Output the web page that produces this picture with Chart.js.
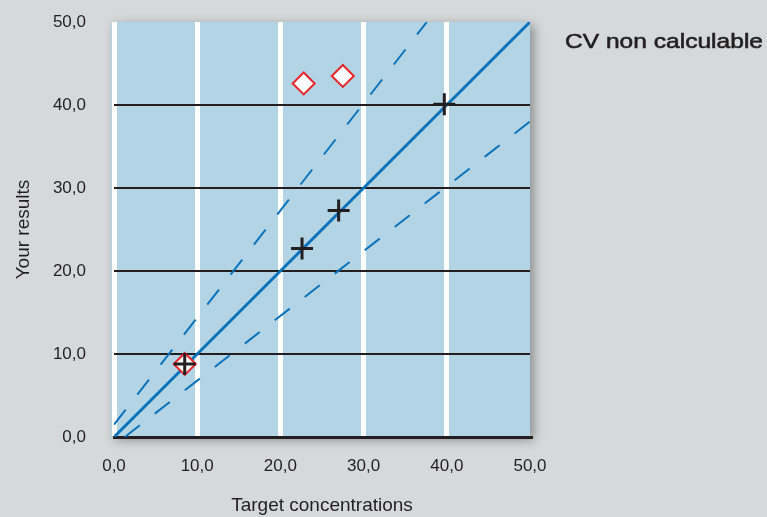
<!DOCTYPE html>
<html>
<head>
<meta charset="utf-8">
<script src="https://cdn.jsdelivr.net/npm/chart.js@4"></script>
<style>
  html, body { margin: 0; padding: 0; background: #d5d9da; }
  #wrap { position: relative; width: 767px; height: 517px; }
</style>
</head>
<body>
<div id="wrap"><canvas id="chart" width="767" height="517"></canvas></div>
<script>
// values
const tickLabels = ["0,0", "10,0", "20,0", "30,0", "40,0", "50,0"];
const resultX = [8.5, 22.6, 27.0, 39.7];
const resultY = [8.8, 22.7, 27.3, 40.1];
const outlierX = [8.5, 22.8, 27.5];
const outlierY = [8.8, 42.6, 43.5];
const identityLine = [[0, 0], [50, 50]];
const upperLimit = [[0, 1.5], [37.6, 50]];
const lowerLimit = [[1.3, 0], [50, 38]];
const noteText = "CV non calculable";

const toPoints = (xs, ys) => xs.map((x, i) => ({ x, y: ys[i] }));
const pairPoints = (arr) => arr.map(([x, y]) => ({ x, y }));

const INK = "#231f20";
const BLUE = "#0a72ba";

const plotBackground = {
  id: "plotBackground",
  beforeDraw(chart) {
    const { ctx, chartArea: a } = chart;
    ctx.save();
    ctx.shadowColor = "rgba(0,0,0,0.35)";
    ctx.shadowBlur = 10;
    ctx.shadowOffsetX = 4;
    ctx.shadowOffsetY = 3;
    ctx.fillStyle = "#b3d4e4";
    ctx.fillRect(a.left - 3, a.top, a.right - a.left + 3, a.bottom - a.top);
    ctx.restore();
  },
  afterDraw(chart) {
    const { ctx } = chart;
    ctx.save();
    ctx.fillStyle = INK;
    ctx.strokeStyle = INK;
    ctx.lineWidth = 0.6;
    ctx.font = "21px 'Liberation Sans', Arial, sans-serif";
    ctx.textBaseline = "alphabetic";
    ctx.textAlign = "left";
    const w = ctx.measureText(noteText).width;
    ctx.translate(565, 48);
    ctx.scale(198 / w, 1);
    ctx.fillText(noteText, 0, 0);
    ctx.strokeText(noteText, 0, 0);
    ctx.restore();
  }
};

const tickFont = { family: "'Liberation Sans', Arial, sans-serif", size: 17 };
const titleFont = { family: "'Liberation Sans', Arial, sans-serif", size: 19 };

new Chart(document.getElementById("chart"), {
  type: "scatter",
  data: {
    datasets: [
      {
        label: "Results",
        data: toPoints(resultX, resultY),
        pointStyle: "cross",
        pointRadius: 11,
        pointBorderWidth: 3,
        borderColor: INK,
        backgroundColor: INK
      },
      {
        label: "Outliers",
        data: toPoints(outlierX, outlierY),
        pointStyle: "rectRot",
        pointRadius: 11,
        pointBorderWidth: 2,
        borderColor: "#e8262b",
        backgroundColor: "#ffffff"
      },
      {
        label: "Identity",
        data: pairPoints(identityLine),
        showLine: true,
        borderColor: BLUE,
        borderWidth: 3,
        pointRadius: 0
      },
      {
        label: "Upper",
        data: pairPoints(upperLimit),
        showLine: true,
        borderColor: BLUE,
        borderWidth: 2,
        borderDash: [19, 19],
        pointRadius: 0
      },
      {
        label: "Lower",
        data: pairPoints(lowerLimit),
        showLine: true,
        borderColor: BLUE,
        borderWidth: 2,
        borderDash: [19, 19],
        pointRadius: 0
      }
    ]
  },
  options: {
    responsive: false,
    animation: false,
    devicePixelRatio: 1,
    layout: { padding: { left: 0, top: 22, right: 237, bottom: 0 } },
    scales: {
      x: {
        type: "linear",
        min: 0,
        max: 50,
        afterFit: (s) => { s.height = 80; },
        ticks: {
          stepSize: 10,
          padding: 19,
          color: INK,
          font: tickFont,
          callback: (v, i) => tickLabels[i]
        },
        grid: {
          z: -2,
          drawTicks: false,
          lineWidth: 5,
          color: (c) => (c.tick && c.tick.value === 50 ? "rgba(0,0,0,0)" : "#ffffff")
        },
        border: { display: true, color: INK, width: 3 },
        title: {
          display: true,
          text: "Target concentrations",
          color: INK,
          font: titleFont,
          padding: { top: 0, bottom: 0 }
        }
      },
      y: {
        type: "linear",
        min: 0,
        max: 50,
        afterFit: (s) => {
          s.width = 114;
          s.paddingTop = 10;
          s.paddingBottom = 10;
        },
        ticks: {
          stepSize: 10,
          padding: 28,
          color: INK,
          font: tickFont,
          callback: (v, i) => tickLabels[i]
        },
        grid: {
          z: -1,
          drawTicks: false,
          lineWidth: 2,
          color: (c) => (c.tick && (c.tick.value === 0 || c.tick.value === 50) ? "rgba(0,0,0,0)" : INK)
        },
        border: { display: false },
        title: {
          display: true,
          text: "Your results",
          color: INK,
          font: titleFont,
          padding: { top: 12, bottom: 0 }
        }
      }
    },
    plugins: {
      legend: { display: false },
      tooltip: { enabled: false }
    }
  },
  plugins: [plotBackground]
});
</script>
</body>
</html>
